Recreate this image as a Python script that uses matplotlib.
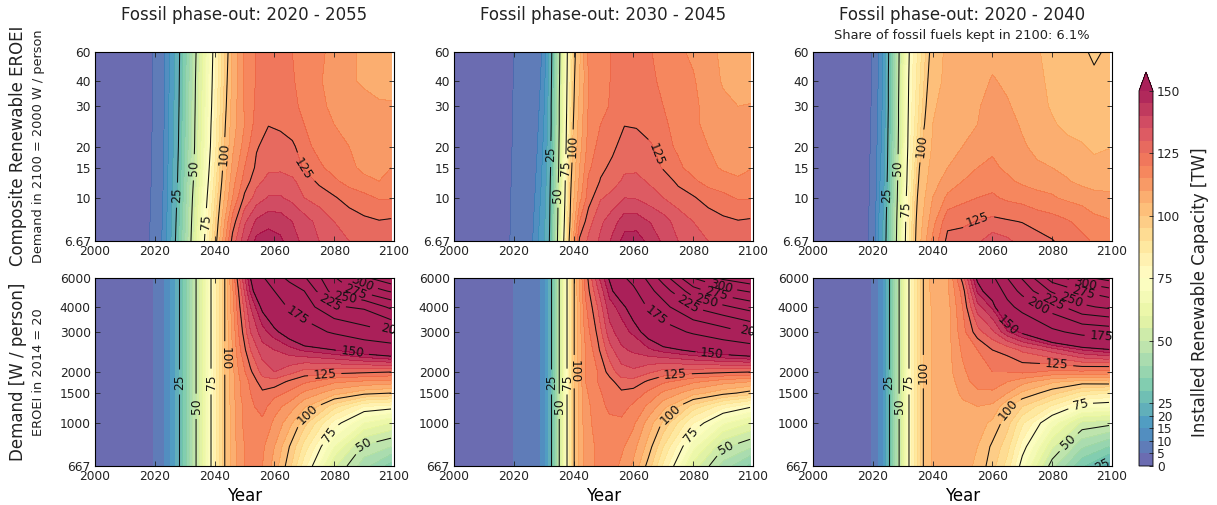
import numpy as np
import matplotlib
matplotlib.use("Agg")
import matplotlib.pyplot as plt

plt.rcParams.update({"font.family": "DejaVu Sans", "text.color": "#222222",
                     "xtick.color": "#222222", "ytick.color": "#222222",
                     "xtick.labelsize": 8.8, "ytick.labelsize": 8.8})

# y axis ticks and their height in the panel (not a plain log axis)
eroei_ticks = [6.67, 10, 15, 20, 30, 40, 60]
demand_ticks = [667, 1000, 1500, 2000, 3000, 4000, 6000]
tick_height = [0, 0.229, 0.388, 0.5, 0.713, 0.846, 1]
year_ticks = [2000, 2020, 2040, 2060, 2080, 2100]
cbar_ticks = [0, 5, 10, 15, 20, 25, 50, 75, 100, 125, 150]
fill_levels = list(range(0, 155, 5))
line_levels = list(range(25, 375, 25))

eroei_rows = [6.67, 8, 10, 12.5, 15, 20, 25, 30, 40, 60]
demand_rows = [667, 800, 1000, 1250, 1500, 1750, 2000, 2500, 3000, 4000, 5000, 6000]

# years where each row reaches these capacities
ramp_levels = [5, 10, 15, 20, 25, 50, 75, 100]

ramp_a = [[2018.2, 2022.3, 2023.8, 2025.4, 2026.9, 2032.1, 2036.6, 2040.7],
          [2018.4, 2022.5, 2024.0, 2025.5, 2027.1, 2032.3, 2037.0, 2041.2],
          [2018.6, 2022.7, 2024.2, 2025.8, 2027.4, 2032.6, 2037.5, 2041.9],
          [2018.8, 2022.8, 2024.3, 2025.9, 2027.6, 2032.9, 2037.9, 2042.4],
          [2018.9, 2022.9, 2024.4, 2026.0, 2027.7, 2033.1, 2038.2, 2042.7],
          [2019.0, 2023.0, 2024.5, 2026.2, 2027.9, 2033.3, 2038.6, 2043.3],
          [2019.1, 2023.1, 2024.6, 2026.3, 2028.0, 2033.4, 2038.8, 2043.6],
          [2019.2, 2023.1, 2024.7, 2026.4, 2028.1, 2033.5, 2039.0, 2043.9],
          [2019.3, 2023.2, 2024.8, 2026.5, 2028.2, 2033.6, 2039.2, 2044.2],
          [2019.4, 2023.2, 2024.9, 2026.6, 2028.3, 2033.8, 2039.4, 2044.5]]
ramp_b = [[2018.7, 2026.3, 2028.2, 2030.2, 2031.9, 2034.6, 2036.7, 2038.5],
          [2018.8, 2026.6, 2028.5, 2030.4, 2032.0, 2034.7, 2036.9, 2038.8],
          [2019.0, 2027.0, 2028.9, 2030.7, 2032.1, 2034.8, 2037.1, 2039.0],
          [2019.1, 2027.3, 2029.2, 2030.8, 2032.2, 2034.9, 2037.2, 2039.2],
          [2019.2, 2027.5, 2029.4, 2030.9, 2032.3, 2035.0, 2037.3, 2039.4],
          [2019.4, 2027.9, 2029.7, 2031.1, 2032.4, 2035.1, 2037.5, 2039.7],
          [2019.5, 2028.2, 2030.0, 2031.3, 2032.5, 2035.2, 2037.6, 2039.9],
          [2019.6, 2028.5, 2030.2, 2031.4, 2032.5, 2035.2, 2037.7, 2040.1],
          [2019.8, 2028.9, 2030.4, 2031.5, 2032.6, 2035.3, 2037.8, 2040.3],
          [2020.0, 2029.3, 2030.7, 2031.7, 2032.7, 2035.4, 2037.9, 2040.6]]
ramp_c = [[2018.5, 2020.8, 2021.9, 2023.3, 2024.4, 2027.9, 2030.9, 2034.3],
          [2018.6, 2020.9, 2022.0, 2023.4, 2024.5, 2028.0, 2031.0, 2034.5],
          [2018.8, 2021.1, 2022.2, 2023.6, 2024.7, 2028.2, 2031.2, 2034.9],
          [2018.9, 2021.2, 2022.4, 2023.8, 2024.8, 2028.3, 2031.4, 2035.3],
          [2019.0, 2021.3, 2022.6, 2023.9, 2024.9, 2028.4, 2031.5, 2035.6],
          [2019.1, 2021.4, 2022.8, 2024.0, 2025.0, 2028.5, 2031.7, 2036.4],
          [2019.3, 2021.5, 2023.0, 2024.1, 2025.1, 2028.6, 2031.8, 2037.3],
          [2019.4, 2021.6, 2023.1, 2024.2, 2025.2, 2028.6, 2031.9, 2037.8],
          [2019.5, 2021.8, 2023.3, 2024.3, 2025.2, 2028.7, 2032.0, 2038.4],
          [2019.7, 2021.9, 2023.4, 2024.4, 2025.3, 2028.8, 2032.2, 2039.0]]
ramp_d = [[2019.4, 2023.2, 2025.0, 2026.6, 2028.2, 2033.8, 2038.8, 2043.4]]
ramp_e = [[2019.8, 2028.8, 2030.3, 2031.5, 2032.5, 2035.2, 2037.8, 2040.2]]
ramp_f = [[2019.3, 2021.9, 2023.3, 2024.3, 2025.3, 2028.8, 2032.1, 2036.9]]

# later years, capacity by row
years_a = [2046, 2050, 2054, 2058, 2062, 2066, 2070, 2075, 2080, 2085, 2090, 2095, 2099]
values_a = [[127, 138, 146.5, 148, 146, 142, 138.5, 135, 132, 130, 128, 127, 127],
            [122, 134, 141, 143, 142.5, 140, 137, 133.5, 130, 127.5, 126, 125.3, 125.7],
            [115, 126, 132, 135.5, 135.5, 133.5, 130, 127.5, 125.5, 123, 121.5, 119.5, 119.5],
            [113, 122, 128.5, 131.5, 132, 131, 127.5, 124, 121, 118, 116, 115, 116],
            [111, 120, 126, 129, 129, 127.5, 124.5, 121, 118, 116, 114, 113, 115],
            [109, 117, 124.5, 127, 127, 126, 122, 118, 116, 115, 114, 113, 113.5],
            [107.5, 115, 122, 124.8, 124, 122, 120, 117, 115, 113.5, 112, 112, 112],
            [107, 115.5, 121, 123, 123, 121, 119, 116, 114, 112, 111, 110.5, 110.5],
            [106, 115.5, 120.5, 122, 122, 120.5, 118, 115.5, 113, 110.5, 109.5, 108.5, 108],
            [106, 115.5, 120.5, 122, 122, 120, 118, 116, 113.5, 111, 109, 107, 106]]

years_b = [2042, 2045, 2049, 2053, 2057, 2061, 2066, 2070, 2075, 2080, 2085, 2090, 2095, 2099]
values_b = [[126, 131, 136, 141, 147, 147.5, 143, 139, 135, 132, 130, 128, 127, 127],
            [120, 128, 134, 138, 142.5, 142.5, 139.5, 137, 133, 130, 127.5, 126, 125.3, 125.7],
            [113, 122.5, 129.5, 131.5, 135, 134.5, 132, 130, 127, 125.5, 123, 121.5, 119.5, 119.5],
            [111, 121, 125.3, 128, 131, 131.5, 129, 127.5, 124, 121, 118, 116.5, 115.5, 116],
            [110, 119, 124, 126, 129, 129, 127.5, 124.5, 121, 118, 116, 114.5, 114, 114.8],
            [108, 117, 122, 124, 127, 127, 125.5, 122, 119, 116.5, 115, 114, 113.5, 113.5],
            [107, 116, 120, 122, 124.8, 124.5, 122.5, 121, 118, 115.8, 114, 112.5, 112, 112],
            [106, 115.5, 119, 120.5, 122.5, 123, 121.5, 120, 116.5, 116, 113.5, 111, 110, 110.2],
            [105, 115, 118, 120.5, 122, 122.5, 120.8, 119, 117, 115.5, 112.5, 109.5, 108.5, 108],
            [104, 116.5, 118.5, 120.3, 122, 122, 120.1, 118, 116, 114, 111.5, 109, 107, 106]]

years_c = [2040, 2045, 2050, 2055, 2060, 2065, 2070, 2075, 2080, 2085, 2090, 2094, 2099]
values_c = [[116, 126.5, 127, 129, 133, 131, 128, 127, 125.3, 123, 121, 119.5, 118],
            [113, 123.5, 124, 125.3, 126, 125.5, 124.8, 123, 122, 120.5, 118.5, 116.5, 115.5],
            [110, 116, 118.5, 120, 120.8, 119, 118, 116.5, 115.5, 114, 113, 111.5, 110.8],
            [108, 112, 115, 117, 118, 116, 114, 113, 113, 110.5, 108.5, 108, 108.5],
            [107, 110, 113, 115, 116, 114, 112, 110.5, 110, 108.5, 107, 106, 106.5],
            [105.5, 108, 110, 112, 114, 112.5, 110.5, 109, 107, 106, 105.3, 104.3, 104.8],
            [105, 107, 108.5, 110, 113, 111.5, 109.5, 107.5, 105.5, 104, 103.5, 103, 103.5],
            [104.5, 106.5, 107.5, 109.5, 112, 110.5, 108.5, 106.5, 104.5, 103.5, 102.5, 102, 102.5],
            [103.5, 106, 107, 108, 110.5, 109, 107.5, 106, 104, 103, 102, 101, 101.5],
            [102.5, 106, 106.5, 107, 108, 107.5, 106.5, 105.4, 103.5, 102, 101, 99, 101]]

years_d = [2048, 2052, 2056, 2060, 2065, 2070, 2080, 2090, 2099]
values_d = [[112, 118, 115, 108, 97, 82, 56, 42, 33],
            [112, 118, 116, 110, 100, 88, 65, 49, 45],
            [113, 119, 119, 114, 107, 97, 78, 65, 60],
            [113, 119, 122, 117, 113, 106, 92, 80, 78],
            [114, 120, 124, 122, 119, 114, 107, 102, 100],
            [114, 121, 128, 128, 124, 121, 116, 114, 113],
            [115, 124, 132, 135, 132, 128, 127, 126, 125],
            [118, 130, 138, 140, 143, 146, 150, 156, 161],
            [120, 135, 143, 148, 155, 165, 178, 191, 200],
            [123, 140, 152, 162, 178, 188, 222, 229, 255],
            [125, 146, 163, 175, 190, 200, 262, 283, 303],
            [128, 150, 172, 190, 205, 222, 272, 320, 345]]

years_e = [2044, 2048, 2052, 2056, 2060, 2065, 2070, 2080, 2090, 2099]
values_e = [[112, 116, 118, 114, 109, 98, 84, 58, 43, 34],
            [112, 116, 118, 116, 112, 103, 90, 67, 51, 46],
            [113, 117, 119, 119, 116, 108, 99, 80, 66, 60],
            [113, 118, 121, 122, 119, 114, 107, 93, 82, 76],
            [114, 119, 122, 124, 123, 119, 114, 107, 102, 98],
            [115, 120, 123, 128, 128, 124, 121, 116, 112, 110],
            [115, 120, 127, 133, 134, 131, 128, 127, 126, 125],
            [115, 123.5, 133, 139, 141, 144, 147, 152, 157, 161],
            [117, 126, 138, 143, 146, 154, 165, 178, 190, 203],
            [119, 130, 143, 147, 156, 178, 192, 227, 245, 260],
            [121, 134, 147, 158, 170, 192, 212, 264, 290, 303],
            [122, 138, 151, 170, 183, 205, 237, 300, 330, 345]]

years_f = [2040, 2045, 2050, 2055, 2060, 2065, 2070, 2080, 2090, 2099]
values_f = [[106, 107, 107, 104, 97, 88, 72, 47, 31, 23],
            [106, 107, 108, 105, 99, 92, 78, 56, 41, 35],
            [106, 107, 108, 107, 104, 97, 86, 68, 54, 52],
            [106, 107, 109, 110, 109, 101, 95, 84, 72, 71],
            [106, 107, 111, 114, 114, 110, 104, 97, 88, 85],
            [106, 107, 113, 117, 118, 115, 112, 106, 103, 104],
            [106, 108, 114, 118, 120, 120, 121, 119, 119, 118],
            [106, 108, 116, 120, 125, 127, 131, 137, 145, 149],
            [106, 108, 118, 128, 134, 144, 152, 170, 182, 186],
            [106, 108, 120, 138, 146, 168, 183, 212, 245, 255],
            [107, 109, 122, 146, 157, 184, 208, 254, 277, 290],
            [107, 109, 127, 152, 170, 200, 227, 287, 318, 335]]

# where the contour labels sit: (year, y value)
labels_a = [(2027.6, 10.3), (2033, 15), (2036.9, 8), (2043, 18), (2070, 15)]
labels_b = [(2032.3, 18), (2034.8, 10.3), (2037.3, 15), (2039.7, 20), (2067.5, 18)]
labels_c = [(2024.7, 10.4), (2028.4, 15), (2031.1, 9), (2036.4, 20), (2055, 8.3)]
labels_d = [(2028.2, 1750), (2033.8, 1250), (2038.8, 1750), (2043.4, 2300), (2076.8, 1950),
            (2086, 2400), (2067, 3500), (2097.4, 3050), (2078, 4100), (2083.5, 4500),
            (2087, 4800), (2089, 5400), (2071.5, 1100), (2078.5, 900), (2089.5, 830)]
labels_e = [(2032.5, 1750), (2035.2, 1250), (2037.8, 1750), (2040.2, 2000), (2074, 1900),
            (2086.3, 2400), (2067.5, 3600), (2098, 3050), (2078.4, 4200), (2084.4, 4400),
            (2087.8, 4800), (2089.4, 5400), (2072.4, 1120), (2078.8, 900), (2090.3, 830)]
labels_f = [(2025.3, 1750), (2028.8, 1250), (2032.1, 1750), (2036.9, 2000), (2065.2, 3250),
            (2081.5, 2180), (2096.4, 2850), (2075.3, 4100), (2080.3, 4250), (2086.5, 4550),
            (2090.4, 4950), (2091, 5600), (2064.6, 1220), (2089.3, 1300), (2084.8, 850),
            (2096.6, 680)]

titles = ["Fossil phase-out: 2020 - 2055", "Fossil phase-out: 2030 - 2045", "Fossil phase-out: 2020 - 2040"]
WIDTH, HEIGHT = 1217, 505
col_left = [95, 454, 813]
row_span = [(52, 241), (278, 466)]
PANEL_W = 299


def px_axes(left, top, right, bottom):
    return fig.add_axes([left / WIDTH, 1 - bottom / HEIGHT, (right - left) / WIDTH, (bottom - top) / HEIGHT])


def make_grid(rows, ramp, years, values):
    ramp = np.tile(ramp, (len(rows), 1)) if len(ramp) == 1 else np.array(ramp)
    n = len(rows)
    x = np.hstack([np.full((n, 1), 2000.0), ramp, np.tile(years, (n, 1))])
    z = np.hstack([np.zeros((n, 1)), np.tile(ramp_levels, (n, 1)), np.array(values, dtype=float)])
    y = np.tile(np.array(rows, dtype=float)[:, None], (1, x.shape[1]))
    return x, y, z


def draw_panel(ax, rows, ticks, ramp, years, values, labels, flip_100=False):
    x, y, z = make_grid(rows, ramp, years, values)
    log_ticks = np.log(ticks)
    ax.set_yscale("function", functions=(
        lambda v: np.interp(np.log(np.maximum(v, 1e-9)), log_ticks, tick_height),
        lambda v: np.exp(np.interp(v, tick_height, log_ticks))))
    ax.set_xlim(2000, 2100)
    ax.set_ylim(ticks[0], ticks[-1])
    filled = ax.contourf(x, y, z, levels=fill_levels, cmap="Spectral_r", extend="max", alpha=0.88)
    cs = ax.contour(x, y, z, levels=line_levels, colors="#111111", linewidths=0.75)
    texts = ax.clabel(cs, fmt="%d", fontsize=8.8, inline=True, manual=labels)
    for t in texts:
        t.set_clip_on(True)
        t.set_clip_path(ax.patch)
        year = t.get_position()[0]
        # straight ramp lines in the lower row read bottom to top
        if ticks[0] == 667 and year < 2046:
            t.set_rotation(270 if flip_100 and t.get_text() == "100" else 90)
        if t.get_text() == "200" and year > 2095:
            t.set_x(2099.5)
    ax.set_xticks(year_ticks)
    ax.set_yticks(ticks, [str(t) for t in ticks])
    ax.minorticks_off()
    ax.tick_params(direction="in", top=True, right=True, length=3.5, width=0.6, pad=3)
    return filled


fig = plt.figure(figsize=(WIDTH / 100, HEIGHT / 100), dpi=100)

panels = [(0, 0, eroei_rows, eroei_ticks, ramp_a, years_a, values_a, labels_a, False),
          (0, 1, eroei_rows, eroei_ticks, ramp_b, years_b, values_b, labels_b, False),
          (0, 2, eroei_rows, eroei_ticks, ramp_c, years_c, values_c, labels_c, False),
          (1, 0, demand_rows, demand_ticks, ramp_d, years_d, values_d, labels_d, True),
          (1, 1, demand_rows, demand_ticks, ramp_e, years_e, values_e, labels_e, True),
          (1, 2, demand_rows, demand_ticks, ramp_f, years_f, values_f, labels_f, False)]

for r, c, rows, ticks, ramp, years, values, labels, flip in panels:
    top, bottom = row_span[r]
    ax = px_axes(col_left[c], top, col_left[c] + PANEL_W, bottom)
    filled = draw_panel(ax, rows, ticks, ramp, years, values, labels, flip)
    if r == 0:
        fig.text((col_left[c] + PANEL_W / 2) / WIDTH, 1 - 15 / HEIGHT, titles[c],
                 ha="center", va="center", fontsize=12)
    else:
        ax.set_xlabel("Year", fontsize=12, labelpad=3)

fig.text(962 / WIDTH, 1 - 35 / HEIGHT, "Share of fossil fuels kept in 2100: 6.1%",
         ha="center", va="center", fontsize=9.4)

fig.text(18 / WIDTH, 1 - 146 / HEIGHT, "Composite Renewable EROEI", rotation=90,
         ha="center", va="center", fontsize=12)
fig.text(39 / WIDTH, 1 - 146 / HEIGHT, "Demand in 2100 = 2000 W / person", rotation=90,
         ha="center", va="center", fontsize=9.3)
fig.text(18 / WIDTH, 1 - 372 / HEIGHT, "Demand [W / person]", rotation=90,
         ha="center", va="center", fontsize=12)
fig.text(39 / WIDTH, 1 - 372 / HEIGHT, "EROEI in 2014 = 20", rotation=90,
         ha="center", va="center", fontsize=9.3)

cax = px_axes(1139, 72, 1153, 466)
cbar = fig.colorbar(filled, cax=cax, extendfrac=0.05, ticks=cbar_ticks, drawedges=False)
cbar.ax.tick_params(labelsize=8.8, length=3, width=0.6, direction="in", pad=3)
cbar.outline.set_linewidth(0.6)
fig.text(1200 / WIDTH, 1 - 292 / HEIGHT, "Installed Renewable Capacity [TW]", rotation=90,
         ha="center", va="center", fontsize=12)

fig.savefig("out.png", dpi=100)
